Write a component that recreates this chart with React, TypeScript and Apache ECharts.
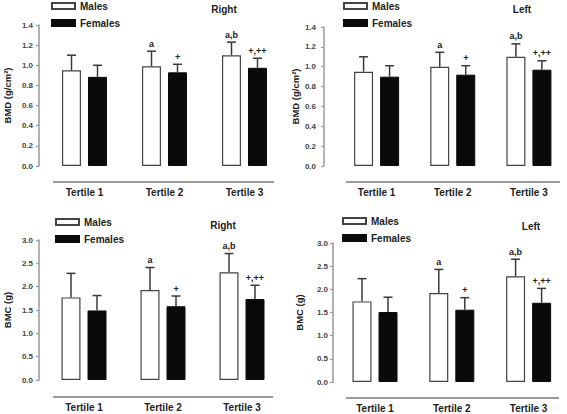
import React, { useEffect, useRef } from "react";
import * as echarts from "echarts";

const categories = ["Tertile 1", "Tertile 2", "Tertile 3"];
const seriesNames = ["Males", "Females"];

// Panel A: BMD right
const bmdRightMales = [0.95, 0.99, 1.1];
const bmdRightMalesSD = [0.15, 0.15, 0.13];
const bmdRightFemales = [0.885, 0.93, 0.975];
const bmdRightFemalesSD = [0.115, 0.08, 0.095];
// Panel B: BMD left
const bmdLeftMales = [0.95, 1.0, 1.1];
const bmdLeftMalesSD = [0.15, 0.145, 0.13];
const bmdLeftFemales = [0.9, 0.92, 0.97];
const bmdLeftFemalesSD = [0.11, 0.09, 0.09];
// Panel C: BMC right
const bmcRightMales = [1.77, 1.93, 2.31];
const bmcRightMalesSD = [0.515, 0.48, 0.4];
const bmcRightFemales = [1.49, 1.58, 1.735];
const bmcRightFemalesSD = [0.32, 0.22, 0.295];
// Panel D: BMC left
const bmcLeftMales = [1.74, 1.92, 2.28];
const bmcLeftMalesSD = [0.49, 0.51, 0.37];
const bmcLeftFemales = [1.51, 1.56, 1.71];
const bmcLeftFemalesSD = [0.32, 0.26, 0.31];

const malesMarks = ["", "a", "a,b"];
const femalesMarks = ["", "+", "+,++"];

const FONT = "Liberation Sans";

type Panel = {
  side: string;
  yName: string;
  max: number;
  interval: number;
  males: number[];
  malesSD: number[];
  females: number[];
  femalesSD: number[];
  grid: { left: number; top: number; width: number; height: number };
  yOffset: number;
  nameGap: number;
  labelMargin: number;
  xLabelMargin: number;
  legend: { left: number; top: number };
  title: { x: number; y: number };
  sep: { x1: number; x2: number; y: number };
};

const panels: Panel[] = [
  {
    side: "Right", yName: "BMD (g/cm²)", max: 1.4, interval: 0.2,
    males: bmdRightMales, malesSD: bmdRightMalesSD, females: bmdRightFemales, femalesSD: bmdRightFemalesSD,
    grid: { left: 44.5, top: 25, width: 240, height: 141 }, yOffset: 5.5, nameGap: 27, labelMargin: 6, xLabelMargin: 21,
    legend: { left: 51, top: 0 }, title: { x: 224, y: 9 }, sep: { x1: 53, x2: 274, y: 182 },
  },
  {
    side: "Left", yName: "BMD (g/cm²)", max: 1.4, interval: 0.2,
    males: bmdLeftMales, malesSD: bmdLeftMalesSD, females: bmdLeftFemales, femalesSD: bmdLeftFemalesSD,
    grid: { left: 338.5, top: 27, width: 234, height: 139 }, yOffset: 14.5, nameGap: 14, labelMargin: 8, xLabelMargin: 21,
    legend: { left: 343, top: 0 }, title: { x: 522, y: 9 }, sep: { x1: 346, x2: 560, y: 182 },
  },
  {
    side: "Right", yName: "BMC (g)", max: 3, interval: 0.5,
    males: bmcRightMales, malesSD: bmcRightMalesSD, females: bmcRightFemales, femalesSD: bmcRightFemalesSD,
    grid: { left: 44.5, top: 240, width: 237, height: 140 }, yOffset: 5.5, nameGap: 27, labelMargin: 6, xLabelMargin: 22,
    legend: { left: 55, top: 216 }, title: { x: 223, y: 225 }, sep: { x1: 53, x2: 273, y: 397 },
  },
  {
    side: "Left", yName: "BMC (g)", max: 3, interval: 0.5,
    males: bmcLeftMales, malesSD: bmcLeftMalesSD, females: bmcLeftFemales, femalesSD: bmcLeftFemalesSD,
    grid: { left: 336.6, top: 243, width: 236, height: 139 }, yOffset: 3.6, nameGap: 29, labelMargin: 5, xLabelMargin: 21,
    legend: { left: 342, top: 215 }, title: { x: 531, y: 226 }, sep: { x1: 346, x2: 559, y: 398 },
  },
];

const BAR_W = 19;
const HALF_STEP = 13;
const INK = "#222222";

function errorSeries(k: number, means: number[], sds: number[], marks: string[], sign: number) {
  return {
    type: "custom",
    xAxisIndex: k,
    yAxisIndex: k,
    silent: true,
    z: 5,
    itemStyle: { color: INK },
    encode: { x: 0, y: [1, 2] },
    data: means.map((m, i) => [i, m, m + sds[i]]),
    renderItem: (params: any, api: any) => {
      const i = api.value(0);
      const p0 = api.coord([i, api.value(1)]);
      const p1 = api.coord([i, api.value(2)]);
      const x = p0[0] + sign * HALF_STEP;
      return {
        type: "group",
        children: [
          { type: "line", shape: { x1: x, y1: p0[1], x2: x, y2: p1[1] }, style: { stroke: "#3a3a3a", lineWidth: 1.5 } },
          { type: "line", shape: { x1: x - 4.5, y1: p1[1], x2: x + 4.5, y2: p1[1] }, style: { stroke: "#3a3a3a", lineWidth: 1.5 } },
          {
            type: "text",
            x, y: p1[1] - 3,
            style: {
              text: marks[params.dataIndex],
              align: "center", verticalAlign: "bottom",
              fontSize: 9, fontWeight: "bold", fontFamily: FONT, fill: INK,
            },
          },
        ],
      };
    },
  };
}

export default function App() {
  const ref = useRef<HTMLDivElement>(null);
  useEffect(() => {
    if (!ref.current) return;
    const chart = echarts.init(ref.current, undefined, { renderer: "svg" });
    const grid: any[] = [];
    const xAxis: any[] = [];
    const yAxis: any[] = [];
    const series: any[] = [];
    const legend: any[] = [];
    const graphic: any[] = [];
    panels.forEach((p, k) => {
      grid.push({ ...p.grid, containLabel: false });
      xAxis.push({
        type: "category", gridIndex: k, data: categories,
        axisLine: { show: false }, axisTick: { show: false },
        axisLabel: { margin: p.xLabelMargin, fontSize: 10, fontWeight: "bold", fontFamily: FONT, color: "#222" },
      });
      yAxis.push({
        type: "value", gridIndex: k, min: 0, max: p.max, interval: p.interval, offset: p.yOffset,
        name: p.yName, nameLocation: "middle", nameRotate: 90, nameGap: p.nameGap,
        nameTextStyle: { fontSize: 9.5, fontWeight: "bold", fontFamily: FONT, color: "#222" },
        splitLine: { show: false },
        axisLine: { show: true, lineStyle: { color: "#999", width: 1.5 } },
        axisTick: { show: true, length: 3, lineStyle: { color: "#999", width: 1.2 } },
        axisLabel: {
          margin: p.labelMargin, fontSize: 8, fontWeight: "bold", fontFamily: FONT, color: "#444",
          formatter: (v: number) => v.toFixed(1),
        },
      });
      series.push({
        type: "bar", name: seriesNames[0], xAxisIndex: k, yAxisIndex: k, data: p.males,
        barWidth: BAR_W, barGap: "37%",
        itemStyle: { color: "#ffffff", borderColor: "#444", borderWidth: 1.2 },
      });
      series.push({
        type: "bar", name: seriesNames[1], xAxisIndex: k, yAxisIndex: k, data: p.females,
        barWidth: BAR_W, barGap: "37%",
        itemStyle: { color: "#0a0a0a", borderColor: "#0a0a0a", borderWidth: 1 },
      });
      series.push(errorSeries(k, p.males, p.malesSD, malesMarks, -1));
      series.push(errorSeries(k, p.females, p.femalesSD, femalesMarks, 1));
      legend.push({
        data: seriesNames, orient: "vertical", left: p.legend.left, top: p.legend.top,
        padding: 0, itemWidth: 23, itemHeight: 6, itemGap: 5, icon: "rect", selectedMode: false,
        textStyle: { fontSize: 10, fontWeight: "bold", fontFamily: FONT, color: "#222", lineHeight: 12 },
      });
      graphic.push({
        type: "line", silent: true,
        shape: { x1: p.sep.x1, y1: p.sep.y, x2: p.sep.x2, y2: p.sep.y },
        style: { stroke: "#9a9a9a", lineWidth: 2 },
      });
      graphic.push({
        type: "text", silent: true, x: p.title.x, y: p.title.y,
        style: {
          text: p.side, align: "center", verticalAlign: "middle",
          fontSize: 10, fontWeight: "bold", fontFamily: FONT, fill: "#222",
        },
      });
    });
    chart.setOption({
      animation: false,
      backgroundColor: "#ffffff",
      grid, xAxis, yAxis, series, legend, graphic,
    });
    return () => chart.dispose();
  }, []);
  return (
    <div
      ref={ref}
      style={{ position: "absolute", left: 0, top: 0, width: 567, height: 414 }}
    />
  );
}
